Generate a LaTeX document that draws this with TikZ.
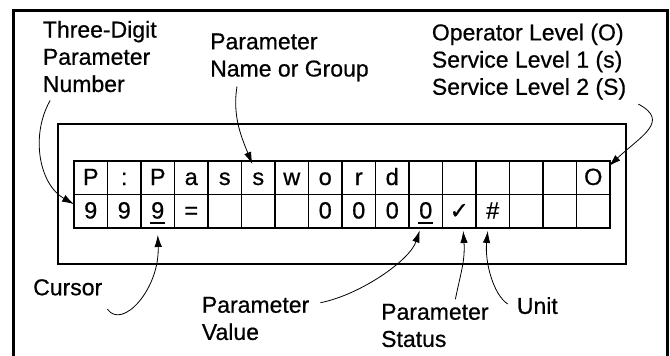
\documentclass[tikz,border=0pt]{standalone}
\usepackage{fontspec}
\setmainfont{Liberation Sans}[FakeBold=0.6]
\newfontfamily\symfont{DejaVu Sans}[FakeBold=0.8]
\usetikzlibrary{arrows.meta,calc}
\tikzset{
  cell/.style={draw, line width=1.9pt, minimum width=33.5pt, minimum height=33.5pt,
    inner sep=0pt, text height=16.5pt, text depth=2pt, font=\fontsize{23.5}{27}\selectfont},
  lbl/.style={inner sep=0pt, anchor=north west, align=left, font=\fontsize{23}{27.2}\selectfont},
  pointer/.style={line width=0.8pt, -{Latex[length=12pt,width=7.5pt]}},
  uline/.style={line width=1.6pt},
  frame/.style={line width=3pt},
  lcdbox/.style={draw, line width=2pt, minimum width=568pt, minimum height=140pt, inner sep=0pt},
}
\begin{document}
\begin{tikzpicture}[x=1pt,y=-1pt]
\useasboundingbox (0,0) rectangle (670,356);
\draw[frame] (13.5,362) -- (13.5,10) -- (667,10) -- (667,362);
\node[lcdbox] (lcd) at (342,194) {};
\foreach \t [count=\i] in {P,:,P,a,s,s,w,o,r,d,{},{},{},{},{},O}
  \node[cell] (t\i) at ({74+33.5*(\i-0.5)},177.75) {\t};
\foreach \t [count=\i] in {9,9,9,=,{},{},{},0,0,0,0,{\symfont\fontsize{23}{23}\selectfont ✓},\#,{},{},{}}
  \node[cell] (b\i) at ({74+33.5*(\i-0.5)},211.25) {\t};
\draw[uline] ($(b3.base)+(-7.5,4.5)$) -- ++(15,0);
\draw[uline] ($(b11.base)+(-7.5,4.5)$) -- ++(15,0);

\node[lbl] (num) at (42.7,20.7) {Three-Digit\\Parameter\\Number};
\node[lbl] (name) at (210,33.3) {Parameter\\Name or Group};
\node[lbl] (level) at (431.7,23.5) {Operator Level (O)\\Service Level 1 (s)\\Service Level 2 (S)};
\node[lbl] (cursor) at (33,279) {Cursor};
\node[lbl] (value) at (201.7,296.7) {Parameter\\Value};
\node[lbl] (status) at (381,303.7) {Parameter\\Status};
\node[lbl] (unit) at (516.7,297) {Unit};

\draw[pointer] ($(num.south west)+(7.5,8)$) .. controls +(-20,35) and +(-35,-20) .. ($(b1.west)+(1,-7)$);
\draw[pointer] ($(name.south west)+(27,5)$) .. controls +(-5,30) and +(-10,-25) .. ($(t6.north)+(-6,4)$);
\draw[pointer] ($(level.south east)+(12,4.4)$) .. controls +(32,17) and +(32,-30) .. ($(t16.north east)+(-2,6)$);
\draw[pointer] ($(cursor.south east)+(5,13.5)$) .. controls +(15,21) and +(2,54) .. ($(b3.south)+(0,6)$);
\draw[pointer] ($(value.north east)+(11,6)$) .. controls +(40,-8) and +(-10,30) .. ($(b11.south)+(-6,1.5)$);
\draw[pointer] ($(status.north)+(20.5,-4.5)$) .. controls +(5,-25) and +(2,30) .. ($(b12.south)+(4,2)$);
\draw[pointer] ($(unit.north west)+(-9,7)$) .. controls +(-15,-10) and +(-3,30) .. ($(b13.south)+(-5,2)$);
\end{tikzpicture}
\end{document}
